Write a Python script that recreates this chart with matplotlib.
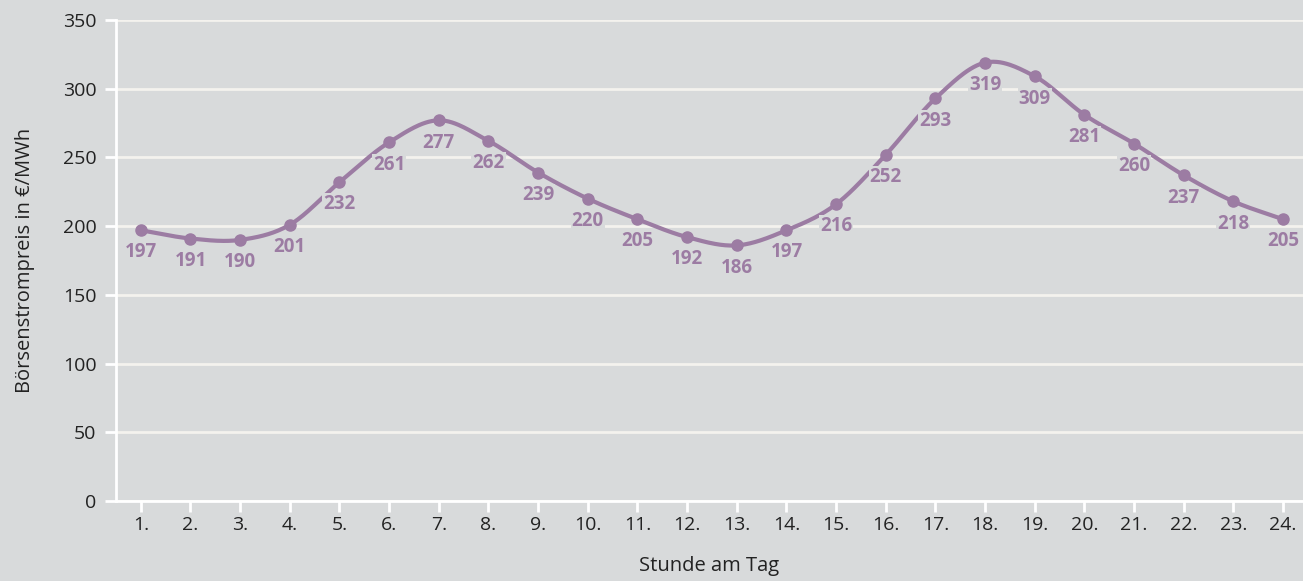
import numpy as np
import matplotlib.pyplot as plt

hours = np.arange(1, 25)
prices = [197, 191, 190, 201, 232, 261, 277, 262, 239, 220, 205, 192,
          186, 197, 216, 252, 293, 319, 309, 281, 260, 237, 218, 205]
tick_labels = [f"{h}." for h in hours]

bg = "#d8dadb"
purple = "#9c7ca3"
text_col = "#222222"

plt.rcParams['font.family'] = ['Open Sans', 'DejaVu Sans']


def catmull_rom(x, y, n=30):
    # smooth curve through all points (uniform Catmull-Rom)
    x = np.asarray(x, float)
    y = np.asarray(y, float)
    px = np.concatenate([[2 * x[0] - x[1]], x, [2 * x[-1] - x[-2]]])
    py = np.concatenate([[2 * y[0] - y[1]], y, [2 * y[-1] - y[-2]]])
    xs, ys = [], []
    t = np.linspace(0, 1, n, endpoint=False)
    for i in range(1, len(px) - 2):
        for p, out in ((px, xs), (py, ys)):
            p0, p1, p2, p3 = p[i - 1], p[i], p[i + 1], p[i + 2]
            out.append(0.5 * ((2 * p1) + (-p0 + p2) * t
                              + (2 * p0 - 5 * p1 + 4 * p2 - p3) * t ** 2
                              + (-p0 + 3 * p1 - 3 * p2 + p3) * t ** 3))
    xs.append([x[-1]])
    ys.append([y[-1]])
    return np.concatenate(xs), np.concatenate(ys)


fig = plt.figure(figsize=(13.03, 5.81), dpi=100, facecolor=bg)
ax = fig.add_axes([116 / 1303, 80 / 581, (1303 - 116) / 1303, 481 / 581])
ax.set_facecolor(bg)

ax.set_xlim(0.5, 24.4)
ax.set_ylim(0, 350)
ax.set_yticks(range(0, 351, 50))
ax.set_xticks(hours)
ax.set_xticklabels(tick_labels)

ax.grid(axis='y', color='#f4f2ee', linewidth=2, zorder=0)
for side in ('top', 'right'):
    ax.spines[side].set_visible(False)
for side in ('left', 'bottom'):
    ax.spines[side].set_color('white')
    ax.spines[side].set_linewidth(2)
ax.tick_params(colors='white', labelcolor=text_col, labelsize=14,
               width=2, length=8)
ax.tick_params(axis='y', pad=6)
ax.tick_params(axis='x', pad=3)

sx, sy = catmull_rom(hours, prices)
ax.plot(sx, sy, color=purple, linewidth=3, zorder=3, solid_capstyle='round')
ax.plot(hours, prices, 'o', color=purple, markersize=8, zorder=4)

for h, p in zip(hours, prices):
    ax.annotate(str(p), (h, p), xytext=(0, -16), textcoords='offset points',
                ha='center', va='center', fontsize=13.5, fontweight='bold',
                color=purple, zorder=5,
                bbox=dict(boxstyle='square,pad=0.05', fc=bg, ec='none'))

ax.set_ylabel("Börsenstrompreis in €/MWh", fontsize=14.5, color=text_col,
              labelpad=20)
ax.set_xlabel("Stunde am Tag", fontsize=14.5, color=text_col, labelpad=16)

fig.savefig("out.png", dpi=100, facecolor=bg)
